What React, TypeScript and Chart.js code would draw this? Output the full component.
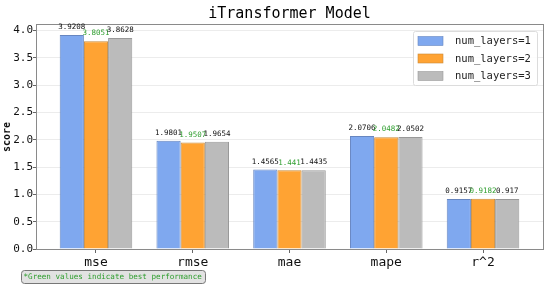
import React, { useEffect, useRef } from "react";
import { Chart, registerables } from "chart.js";

Chart.register(...registerables);

const categories = ["mse", "rmse", "mae", "mape", "r^2"];
const seriesLabels = ["num_layers=1", "num_layers=2", "num_layers=3"];
const layers1 = [3.9208, 1.9801, 1.4565, 2.0706, 0.9157];
const layers2 = [3.8051, 1.9507, 1.441, 2.0482, 0.9182];
const layers3 = [3.8628, 1.9654, 1.4435, 2.0502, 0.917];
const higherIsBetter = [false, false, false, false, true];
const yTicks = [0, 0.5, 1.0, 1.5, 2.0, 2.5, 3.0, 3.5, 4.0];
const titleText = "iTransformer Model";
const yTitle = "score";
const footnote = "*Green values indicate best performance";

const colors = ["#7FA8EF", "#FFA333", "#BBBBBB"];
const borders = ["#6786c0", "#c98a3a", "#999999"];
const MONO = "'DejaVu Sans Mono', monospace";
const GREEN = "#2f9e2f";

const allSeries = [layers1, layers2, layers3];

function bestIndex(i: number): number {
  let best = 0;
  for (let s = 1; s < allSeries.length; s++) {
    const v = allSeries[s][i];
    const b = allSeries[best][i];
    if (higherIsBetter[i] ? v > b : v < b) best = s;
  }
  return best;
}

function roundRect(ctx: CanvasRenderingContext2D, x: number, y: number, w: number, h: number, r: number) {
  ctx.beginPath();
  ctx.moveTo(x + r, y);
  ctx.lineTo(x + w - r, y);
  ctx.quadraticCurveTo(x + w, y, x + w, y + r);
  ctx.lineTo(x + w, y + h - r);
  ctx.quadraticCurveTo(x + w, y + h, x + w - r, y + h);
  ctx.lineTo(x + r, y + h);
  ctx.quadraticCurveTo(x, y + h, x, y + h - r);
  ctx.lineTo(x, y + r);
  ctx.quadraticCurveTo(x, y, x + r, y);
  ctx.closePath();
}

const decorPlugin = {
  id: "decor",
  afterDatasetsDraw(chart: any) {
    const ctx: CanvasRenderingContext2D = chart.ctx;
    const area = chart.chartArea;
    ctx.save();
    // plot frame
    ctx.strokeStyle = "#8a8a8a";
    ctx.lineWidth = 1;
    ctx.strokeRect(Math.round(area.left) + 0.5, Math.round(area.top) + 0.5, Math.round(area.right - area.left), Math.round(area.bottom - area.top));

    // value labels
    ctx.font = `7.5px ${MONO}`;
    ctx.textAlign = "center";
    ctx.textBaseline = "bottom";
    chart.data.datasets.forEach((ds: any, di: number) => {
      const meta = chart.getDatasetMeta(di);
      meta.data.forEach((bar: any, i: number) => {
        const v = allSeries[di][i];
        ctx.fillStyle = bestIndex(i) === di ? GREEN : "#111";
        ctx.fillText(String(v), bar.x, bar.y - 4);
      });
    });

    // title
    ctx.fillStyle = "#000";
    ctx.font = `15px ${MONO}`;
    ctx.textAlign = "center";
    ctx.textBaseline = "middle";
    ctx.fillText(titleText, (area.left + area.right) / 2, 14);

    // y axis title
    ctx.save();
    ctx.translate(7, 137);
    ctx.rotate(-Math.PI / 2);
    ctx.fillStyle = "#111";
    ctx.font = `bold 10px ${MONO}`;
    ctx.textAlign = "center";
    ctx.textBaseline = "middle";
    ctx.fillText(yTitle, 0, 0);
    ctx.restore();

    // legend
    const lx = 413, ly = 31, lw = 124, lh = 54;
    ctx.fillStyle = "rgba(255,255,255,0.85)";
    roundRect(ctx, lx + 0.5, ly + 0.5, lw, lh, 2);
    ctx.fill();
    ctx.strokeStyle = "#dcdcdc";
    ctx.stroke();
    const rows = [41, 58.5, 76];
    ctx.font = `10.5px ${MONO}`;
    ctx.textAlign = "left";
    ctx.textBaseline = "middle";
    seriesLabels.forEach((lab, i) => {
      ctx.fillStyle = colors[i];
      ctx.fillRect(418, rows[i] - 4.5, 25, 9);
      ctx.strokeStyle = borders[i];
      ctx.lineWidth = 0.6;
      ctx.strokeRect(418, rows[i] - 4.5, 25, 9);
      ctx.fillStyle = "#222";
      ctx.fillText(lab, 455, rows[i] + 0.5);
    });

    // footnote
    ctx.fillStyle = "#e2e2e2";
    roundRect(ctx, 21.5, 270.5, 184, 13, 3);
    ctx.fill();
    ctx.strokeStyle = "#777";
    ctx.lineWidth = 1;
    ctx.stroke();
    ctx.fillStyle = GREEN;
    ctx.font = `7.6px ${MONO}`;
    ctx.textAlign = "left";
    ctx.textBaseline = "middle";
    ctx.fillText(footnote, 23.5, 277.5);
    ctx.restore();
  },
};

export default function App() {
  const ref = useRef<HTMLCanvasElement>(null);
  useEffect(() => {
    if (!ref.current) return;
    const chart = new Chart(ref.current, {
      type: "bar",
      data: {
        datasets: allSeries.map((s, di) => ({
          label: seriesLabels[di],
          data: s.map((v, i) => ({ x: i, y: v })),
          backgroundColor: colors[di],
          borderColor: borders[di],
          borderWidth: 1,
          categoryPercentage: 0.75,
          barPercentage: 1.0,
        })),
      },
      options: {
        animation: false,
        responsive: false,
        maintainAspectRatio: false,
        layout: { padding: { left: 0, right: 7, top: 24, bottom: 0 } },
        plugins: {
          legend: { display: false },
          title: { display: false },
          tooltip: { enabled: false },
        },
        scales: {
          x: {
            type: "linear",
            min: -0.62,
            max: 4.62,
            offset: false,
            afterFit: (scale: any) => {
              scale.height = 42;
            },
            afterBuildTicks: (scale: any) => {
              scale.ticks = categories.map((_, i) => ({ value: i }));
            },
            grid: {
              display: true,
              drawOnChartArea: false,
              offset: false,
              tickLength: 4,
              tickColor: "#666",
            },
            border: { display: false },
            ticks: {
              callback: (v: any) => categories[v] ?? "",
              font: { family: MONO, size: 13 },
              color: "#111",
              padding: 2,
              maxRotation: 0,
              autoSkip: false,
            },
          },
          y: {
            type: "linear",
            min: 0,
            max: 4.12,
            afterFit: (scale: any) => {
              scale.width = 36;
            },
            afterBuildTicks: (scale: any) => {
              scale.ticks = yTicks.map((v) => ({ value: v }));
            },
            grid: {
              color: "#ececec",
              tickLength: 3,
              tickColor: "#666",
            },
            border: { display: false },
            ticks: {
              callback: (v: any) => Number(v).toFixed(1),
              font: { family: MONO, size: 11 },
              color: "#111",
              padding: 0,
            },
            title: { display: false },
          },
        },
      },
      plugins: [decorPlugin],
    } as any);
    return () => chart.destroy();
  }, []);
  return (
    <div style={{ position: "fixed", left: 0, top: 0, width: 550, height: 291, background: "#fff" }}>
      <canvas ref={ref} width={550} height={291} style={{ width: 550, height: 291, display: "block" }} />
    </div>
  );
}
